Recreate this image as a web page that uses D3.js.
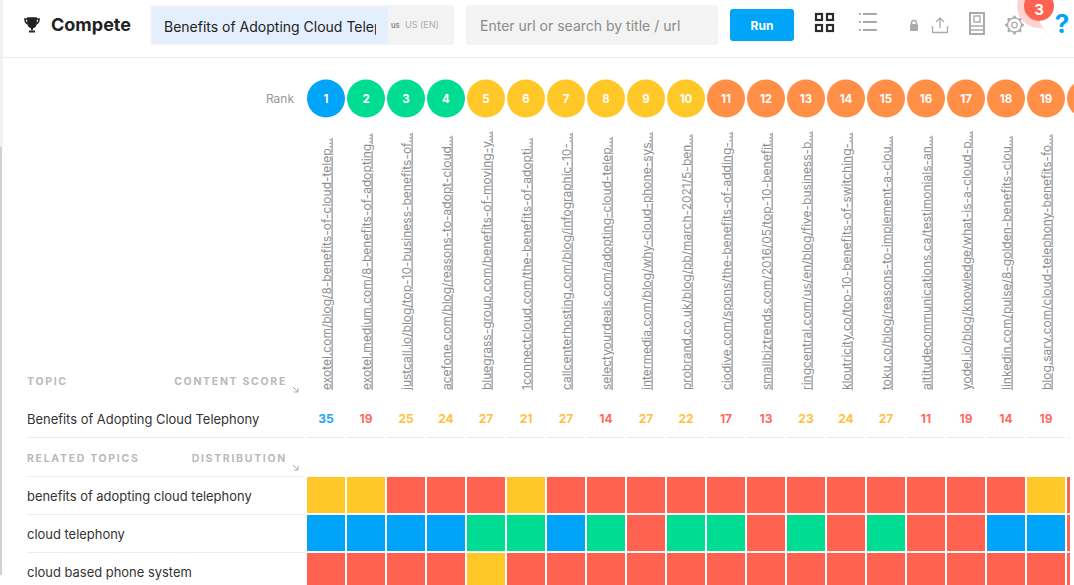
<!DOCTYPE html>
<html>
<head>
<meta charset="utf-8">
<script src="https://cdnjs.cloudflare.com/ajax/libs/d3/7.8.5/d3.min.js"></script>
<style>
  html, body { margin: 0; padding: 0; background: #fff; overflow: hidden; }
  text { font-family: Inter, "Noto Sans", sans-serif; }
</style>
</head>
<body>
<div id="chart"></div>
<script>
/////////////////////////////////////
///      DATA
/////////////////////////////////////
var ranks = d3.range(1, 21);
var urls = [
  "exotel.com/blog/8-benefits-of-cloud-telep...",
  "exotel.medium.com/8-benefits-of-adopting...",
  "justcall.io/blog/top-10-business-benefits-of...",
  "acefone.com/blog/reasons-to-adopt-cloud...",
  "bluegrass-group.com/benefits-of-moving-y...",
  "1connectcloud.com/the-benefits-of-adopti...",
  "callcenterhosting.com/blog/infographic-10-...",
  "selectyourdeals.com/adopting-cloud-telep...",
  "intermedia.com/blog/why-cloud-phone-sys...",
  "probrand.co.uk/blog/pb/march-2021/5-ben...",
  "ciodive.com/spons/the-benefits-of-adding-...",
  "smallbiztrends.com/2016/05/top-10-benefit...",
  "ringcentral.com/us/en/blog/five-business-b...",
  "kloutricity.co/top-10-benefits-of-switching-...",
  "toku.co/blog/reasons-to-implement-a-clou...",
  "altitudecommunications.ca/testimonials-an...",
  "yodel.io/blog/knowledge/what-is-a-cloud-p...",
  "linkedin.com/pulse/8-golden-benefits-clou...",
  "blog.sarv.com/cloud-telephony-benefits-fo..."
];
var scores = [35, 19, 25, 24, 27, 21, 27, 14, 27, 22, 17, 13, 23, 24, 27, 11, 19, 14, 19];
var mainTopic = "Benefits of Adopting Cloud Telephony";
var inputValue = "Benefits of Adopting Cloud Telep";
var topics = ["benefits of adopting cloud telephony", "cloud telephony", "cloud based phone system"];
// b = blue, g = green, y = yellow, r = red
var distBenefits = "yyrrryrrrrrrrrrrrryr".split("");
var distTelephony = "bbbbggbgrggrgrgrrbbr".split("");
var distPhoneSystem = "rrrryrrrrrrrrrrrrrrr".split("");
var distRows = [distBenefits, distTelephony, distPhoneSystem];

var levelColor = { b: "#00a4f8", g: "#00dc92", y: "#ffc727", r: "#ff6250" };
var rankColor = function(r) { return r == 1 ? "#00a4f8" : r <= 4 ? "#00dc92" : r <= 10 ? "#ffc727" : "#ff8e47"; };
var scoreColor = function(s) { return s >= 30 ? "#1ca7f6" : s >= 20 ? "#ffc13a" : "#ff6a5c"; };

/////////////////////////////////////
///      SETUP
/////////////////////////////////////
var svg = d3.select("#chart").append("svg")
  .attr("width", 1074)
  .attr("height", 585)
  .style("display", "block");

var x = d3.scaleBand().domain(ranks).range([306, 1106]).paddingInner(0.05).paddingOuter(0.025);
var y = d3.scaleBand().domain(d3.range(distRows.length)).range([476, 590]).paddingInner(0.05).paddingOuter(0.025);
var cx = function(r) { return x(r) + x.bandwidth() / 2; };

svg.append("clipPath").attr("id", "plotClip").append("rect")
  .attr("x", 0).attr("y", 0).attr("width", 1070).attr("height", 585);
var plot = svg.append("g").attr("clip-path", "url(#plotClip)");

/////////////////////////////////////
///      HEADER
/////////////////////////////////////
svg.append("rect").attr("x", 0).attr("y", 0).attr("width", 3).attr("height", 147).attr("fill", "#f1f1f1");
svg.append("rect").attr("x", 0).attr("y", 147).attr("width", 2).attr("height", 428).attr("fill", "#d0d0d0");
svg.append("line").attr("x1", 3).attr("x2", 1074).attr("y1", 57.5).attr("y2", 57.5).attr("stroke", "#ebebeb");

// trophy
var trophy = svg.append("g").attr("transform", "translate(24,17)").attr("fill", "none").attr("stroke", "#222").attr("stroke-width", 1.6);
trophy.append("path").attr("d", "M4,1H12V6C12,9 10,10.5 8,10.5C6,10.5 4,9 4,6Z").attr("fill", "#222");
trophy.append("path").attr("d", "M4,2H1C1,5 2,6.5 4.5,7M12,2H15C15,5 14,6.5 11.5,7");
trophy.append("path").attr("d", "M8,10V13M5,14.5H11").attr("stroke-width", 2);

svg.append("text").attr("x", 51).attr("y", 31).attr("font-size", 18).attr("font-weight", 700).attr("fill", "#222").text("Compete");

svg.append("rect").attr("x", 150).attr("y", 5).attr("width", 304).attr("height", 40).attr("rx", 3).attr("fill", "#f3f3f3");
svg.append("rect").attr("x", 152).attr("y", 7).attr("width", 236).attr("height", 36).attr("rx", 2).attr("fill", "#e3effc");
svg.append("clipPath").attr("id", "inputClip").append("rect").attr("x", 160).attr("y", 7).attr("width", 216).attr("height", 36);
svg.append("g").attr("clip-path", "url(#inputClip)")
  .append("text").attr("x", 164).attr("y", 32).attr("font-size", 14).attr("fill", "#222").text(inputValue);
svg.append("text").attr("x", 391).attr("y", 28).attr("font-size", 7.5).attr("font-weight", 600).attr("fill", "#888").text("us");
svg.append("text").attr("x", 405).attr("y", 28).attr("font-size", 9).attr("fill", "#aaa").text("US (EN)");

svg.append("rect").attr("x", 466).attr("y", 5).attr("width", 252).attr("height", 40).attr("rx", 3).attr("fill", "#f3f3f3");
svg.append("text").attr("x", 480).attr("y", 31).attr("font-size", 14).attr("fill", "#8a8a8a").text("Enter url or search by title / url");

svg.append("rect").attr("x", 730).attr("y", 9).attr("width", 64).attr("height", 32).attr("rx", 3).attr("fill", "#00a4f8");
svg.append("text").attr("x", 762).attr("y", 30).attr("text-anchor", "middle").attr("font-size", 12).attr("font-weight", 700).attr("fill", "#fff").text("Run");

// grid icon
[[815, 13], [826, 13], [815, 24], [826, 24]].forEach(function(p) {
  svg.append("rect").attr("x", p[0] + 1).attr("y", p[1] + 1).attr("width", 6).attr("height", 6)
    .attr("fill", "none").attr("stroke", "#2b2b2b").attr("stroke-width", 2.2);
});
// list icon
[14, 22, 30].forEach(function(yy) {
  svg.append("rect").attr("x", 859).attr("y", yy - 1).attr("width", 2).attr("height", 2).attr("fill", "#aaa");
  svg.append("rect").attr("x", 863).attr("y", yy - 1).attr("width", 14).attr("height", 2).attr("fill", "#aaa");
});
// lock
svg.append("rect").attr("x", 910).attr("y", 24).attr("width", 8).attr("height", 7).attr("rx", 1).attr("fill", "#aaa");
svg.append("path").attr("d", "M911.5,24V23a2.5,2.5 0 0 1 5,0V24").attr("fill", "none").attr("stroke", "#aaa").attr("stroke-width", 1.4);
// upload
svg.append("path").attr("d", "M932.5,26V32.5H947.5V26M940,28V18M936,22L940,18L944,22")
  .attr("fill", "none").attr("stroke", "#aaa").attr("stroke-width", 1.3);
// book
svg.append("rect").attr("x", 970).attr("y", 13).attr("width", 14).attr("height", 21).attr("fill", "none").attr("stroke", "#aaa").attr("stroke-width", 2);
svg.append("rect").attr("x", 974).attr("y", 16).attr("width", 6).attr("height", 6).attr("fill", "none").attr("stroke", "#aaa").attr("stroke-width", 1.4);
svg.append("path").attr("d", "M970,26H984M970,30H984").attr("fill", "none").attr("stroke", "#aaa").attr("stroke-width", 1.6);
// gear
var gear = svg.append("g").attr("transform", "translate(1014.5,25)");
gear.selectAll("line").data(d3.range(8)).join("line")
  .attr("x1", 0).attr("x2", 0).attr("y1", -7).attr("y2", -9.3)
  .attr("transform", function(d) { return "rotate(" + d * 45 + ")"; })
  .attr("stroke", "#aaa").attr("stroke-width", 2.6);
gear.append("circle").attr("r", 7).attr("fill", "#fff").attr("stroke", "#aaa").attr("stroke-width", 1.4);
gear.append("circle").attr("r", 2.8).attr("fill", "#fff").attr("stroke", "#aaa").attr("stroke-width", 1.3);

// help button + badge
svg.append("circle").attr("cx", 1039).attr("cy", 6).attr("r", 22).attr("fill", "#ffd4cf");
svg.append("circle").attr("cx", 1078).attr("cy", 6).attr("r", 41.5).attr("fill", "#eeeeee");
svg.append("circle").attr("cx", 1078).attr("cy", 6).attr("r", 41).attr("fill", "#fff");
svg.append("text").attr("x", 1062).attr("y", 33).attr("text-anchor", "middle").attr("font-size", 26).attr("font-weight", 700).attr("fill", "#00a4f8").text("?");
svg.append("circle").attr("cx", 1039).attr("cy", 6).attr("r", 15).attr("fill", "#ff6250");
svg.append("text").attr("x", 1039).attr("y", 14.5).attr("text-anchor", "middle").attr("font-size", 15).attr("font-weight", 700).attr("fill", "#fff").text("3");

/////////////////////////////////////
///      RANK ROW + URLS
/////////////////////////////////////
svg.append("text").attr("x", 294).attr("y", 103).attr("text-anchor", "end").attr("font-size", 12).attr("fill", "#999").text("Rank");

// circle 20 runs off the page, its number is not visible
svg.selectAll("circle.rank").data(ranks).join("circle")
  .attr("class", "rank")
  .attr("cx", cx)
  .attr("cy", 98.5)
  .attr("r", 19)
  .attr("fill", rankColor);
svg.selectAll("text.rank").data(ranks.slice(0, urls.length)).join("text")
  .attr("class", "rank")
  .attr("x", cx)
  .attr("y", 103)
  .attr("text-anchor", "middle")
  .attr("font-size", 11.5)
  .attr("font-weight", 700)
  .attr("fill", "#fff")
  .text(function(d) { return d; });

plot.selectAll("text.url").data(urls).join("text")
  .attr("class", "url")
  .attr("transform", function(d, i) { return "translate(" + (cx(ranks[i]) + 4.5) + ",390) rotate(-90)"; })
  .attr("font-size", 12)
  .attr("fill", "#8f8f8f")
  .attr("text-decoration", "underline")
  .text(function(d) { return d; });

/////////////////////////////////////
///      SCORES
/////////////////////////////////////
function sectionHead(label, right, yPos) {
  svg.append("text").attr("x", 27).attr("y", yPos).attr("font-size", 10.5).attr("font-weight", 700).attr("letter-spacing", 1.7).attr("fill", "#b9b9b9").text(label);
  svg.append("text").attr("x", 287).attr("y", yPos).attr("text-anchor", "end").attr("font-size", 10.5).attr("font-weight", 700).attr("letter-spacing", 1.7).attr("fill", "#b9b9b9").text(right);
}
function sortIcon(xPos, yPos) {
  svg.append("path")
    .attr("d", "M" + xPos + "," + yPos + "l5,5m0,-4v4h-4")
    .attr("fill", "none").attr("stroke", "#aaa").attr("stroke-width", 1);
}
sectionHead("TOPIC", "CONTENT SCORE", 385);
sortIcon(293, 387);
sectionHead("RELATED TOPICS", "DISTRIBUTION", 462);
sortIcon(293, 465);

svg.append("text").attr("x", 27).attr("y", 424).attr("font-size", 12.95).attr("fill", "#333").text(mainTopic);

plot.selectAll("text.score").data(scores).join("text")
  .attr("class", "score")
  .attr("x", function(d, i) { return cx(ranks[i]); })
  .attr("y", 423)
  .attr("text-anchor", "middle")
  .attr("font-size", 12)
  .attr("font-weight", 700)
  .attr("fill", scoreColor)
  .text(function(d) { return d; });

// row separators
svg.append("line").attr("x1", 27).attr("x2", 305).attr("y1", 437.5).attr("y2", 437.5).attr("stroke", "#ebebeb");
plot.selectAll("line.sep").data(ranks).join("line")
  .attr("class", "sep")
  .attr("x1", function(d) { return x(d); })
  .attr("x2", function(d) { return x(d) + x.bandwidth(); })
  .attr("y1", 437.5).attr("y2", 437.5)
  .attr("stroke", "#ebebeb");

/////////////////////////////////////
///      HEATMAP
/////////////////////////////////////
topics.forEach(function(t, i) {
  svg.append("line").attr("x1", 27).attr("x2", 305).attr("y1", y(i) - 0.5).attr("y2", y(i) - 0.5).attr("stroke", "#ebebeb");
  svg.append("text").attr("x", 27).attr("y", y(i) + 24).attr("font-size", 12.95).attr("fill", "#333").text(t);
});

var rows = plot.selectAll("g.row").data(distRows).join("g")
  .attr("class", "row")
  .attr("transform", function(d, i) { return "translate(0," + y(i) + ")"; });
rows.selectAll("rect").data(function(d) { return d; }).join("rect")
  .attr("x", function(d, i) { return x(ranks[i]); })
  .attr("width", x.bandwidth())
  .attr("height", y.bandwidth())
  .attr("fill", function(d) { return levelColor[d]; });
</script>
</body>
</html>
